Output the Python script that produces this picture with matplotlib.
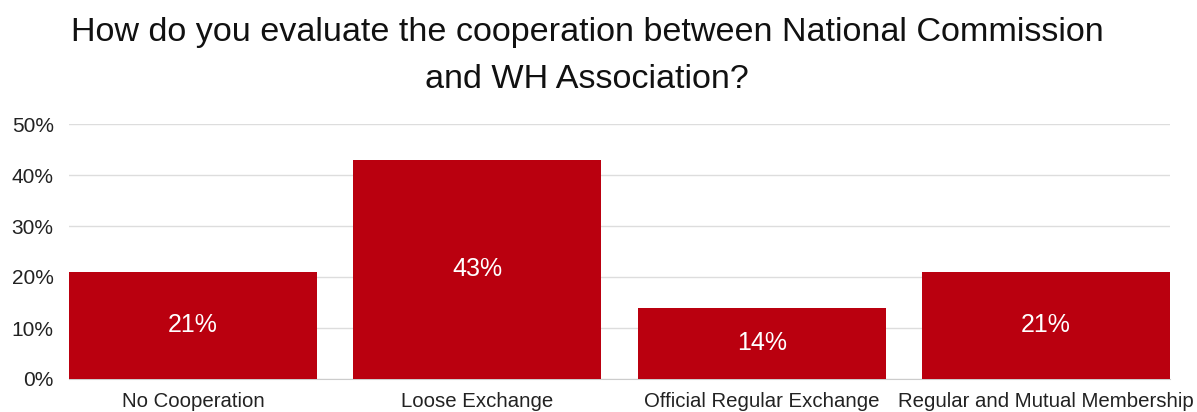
import matplotlib
matplotlib.use("Agg")
import matplotlib.pyplot as plt
from matplotlib.ticker import FuncFormatter

categories = ["No Cooperation", "Loose Exchange", "Official Regular Exchange", "Regular and Mutual Membership"]
values = [21, 43, 14, 21]
yticks = [0, 10, 20, 30, 40, 50]
title = "How do you evaluate the cooperation between National Commission\nand WH Association?"

plt.rcParams['font.family'] = ['Liberation Sans', 'DejaVu Sans']

fig = plt.figure(figsize=(11.97, 4.12), dpi=100)
ax = fig.add_axes([69/1197, 33/412, (1170-69)/1197, (379-124)/412])

bar_color = "#BA000F"
w = 0.873
x = list(range(len(categories)))
bars = ax.bar(x, values, width=w, color=bar_color, zorder=3)
for xi, v in zip(x, values):
    ax.text(xi, v / 2, f"{v}%", ha="center", va="center", color="white", fontsize=18, zorder=4)

ax.set_xlim(-w / 2, len(categories) - 1 + w / 2)
ax.set_ylim(0, 50)
ax.set_yticks(yticks)
ax.yaxis.set_major_formatter(FuncFormatter(lambda v, p: f"{int(v)}%"))
ax.set_xticks(x)
ax.set_xticklabels(categories)
ax.tick_params(axis="both", length=0, colors="#222222")
ax.tick_params(axis="y", pad=11, labelsize=15)
ax.tick_params(axis="x", pad=9.5, labelsize=14.7)
ax.grid(axis="y", color="#DDDDDD", linewidth=1, zorder=0)
for s in ["top", "right", "left"]:
    ax.spines[s].set_visible(False)
ax.spines["bottom"].set_color("#CCCCCC")
ax.spines["bottom"].set_zorder(2)

fig.text(587/1197, 1 - 56/412, title, ha="center", va="center", fontsize=24.6, color="#111111", linespacing=1.64)

fig.savefig("out.png", dpi=100, facecolor="white")
